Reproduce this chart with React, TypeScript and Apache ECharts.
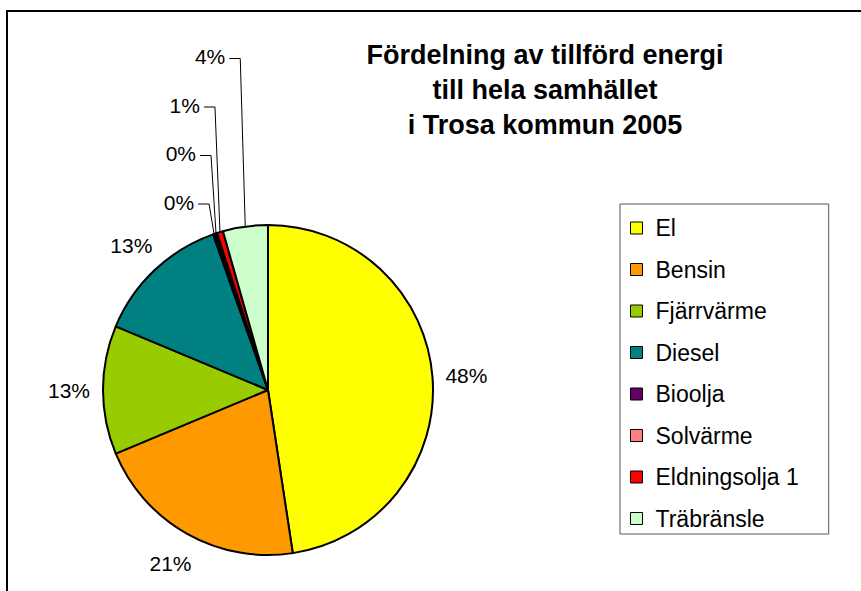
import React, { useEffect, useRef } from "react";
import * as echarts from "echarts";

const categories = ["El", "Bensin", "Fjärrvärme", "Diesel", "Bioolja", "Solvärme", "Eldningsolja 1", "Träbränsle"];
const values = [47.6, 21.1, 12.6, 13.3, 0.2, 0.2, 0.6, 4.4];
const colors = ["#FFFF00", "#FF9900", "#99CC00", "#008080", "#660066", "#FF8080", "#FF0000", "#CCFFCC"];
const titleLines = ["Fördelning av tillförd energi", "till hela samhället", "i Trosa kommun 2005"];

const FONT = "'Liberation Sans', Arial, sans-serif";
const CX = 268;
const CY = 390;
const R = 165;
const SMALL = 5;

export default function App() {
  const ref = useRef<HTMLDivElement>(null);
  useEffect(() => {
    document.body.style.margin = "0";
    if (!ref.current) return;
    const chart = echarts.init(ref.current, undefined, { renderer: "svg" });
    const smallIdx = values.map((v, i) => (v < SMALL ? i : -1)).filter((i) => i >= 0);
    const data = categories.map((name, i) => ({
      name,
      value: values[i],
      itemStyle: { color: colors[i] },
      labelLine: { show: true, lineStyle: { opacity: values[i] < SMALL ? 1 : 0 } },
    }));
    chart.setOption({
      animation: false,
      backgroundColor: "#ffffff",
      title: {
        text: titleLines.join("\n"),
        left: 540,
        top: 32,
        textAlign: "center",
        textStyle: { fontFamily: FONT, fontSize: 27, fontWeight: "bold", color: "#000", lineHeight: 35 },
      },
      legend: {
        orient: "vertical",
        left: 620,
        top: 204,
        icon: "rect",
        itemWidth: 12,
        itemHeight: 12,
        itemGap: 17.5,
        padding: [12, 30, 3.5, 10],
        borderColor: "#555",
        borderWidth: 1,
        itemStyle: { borderColor: "#000", borderWidth: 1 },
        textStyle: { fontFamily: FONT, fontSize: 23, color: "#000", lineHeight: 24, padding: [0, 0, 0, 8] },
        data: categories,
      },
      graphic: [
        {
          type: "rect",
          shape: { x: 7, y: 11, width: 900, height: 700 },
          style: { fill: "none", stroke: "#000", lineWidth: 2 },
          silent: true,
        },
      ],
      series: [
        {
          type: "pie",
          center: [CX, CY],
          radius: R,
          startAngle: 90,
          clockwise: true,
          avoidLabelOverlap: false,
          emphasis: { disabled: true },
          itemStyle: { borderColor: "#000", borderWidth: 2 },
          label: {
            show: true,
            position: "outside",
            fontFamily: FONT,
            fontSize: 21,
            color: "#000",
            formatter: (p: any) => Math.round(p.percent) + "%",
          },
          labelLine: { show: true, length: 10, length2: 5, smooth: false, lineStyle: { color: "#000", width: 1 } },
          labelLayout: (p: any) => {
            const pts = p.labelLinePoints;
            if (!pts) return {};
            const idx = p.dataIndex;
            const ex = pts[0][0];
            const ey = pts[0][1];
            const dx = ex - CX;
            const dy = ey - CY;
            const len = Math.hypot(dx, dy) || 1;
            if (values[idx] >= SMALL) {
              const d = R + 34;
              return {
                x: CX + (dx / len) * d,
                y: CY + (dy / len) * d,
                align: "center",
                verticalAlign: "middle",
                labelLinePoints: [[ex, ey], [ex, ey], [ex, ey]],
              };
            }
            const k = smallIdx.indexOf(idx);
            const ly = CY - R - 23 - 48.5 * k;
            const lx = ex - 20;
            return {
              x: lx,
              y: ly,
              align: "right",
              verticalAlign: "middle",
              labelLinePoints: [[ex, ey], [ex - 5, ly + 2], [lx + 4, ly + 2]],
            };
          },
          data,
        },
      ],
    });
    return () => chart.dispose();
  }, []);
  return <div ref={ref} style={{ width: 861, height: 591 }} />;
}
